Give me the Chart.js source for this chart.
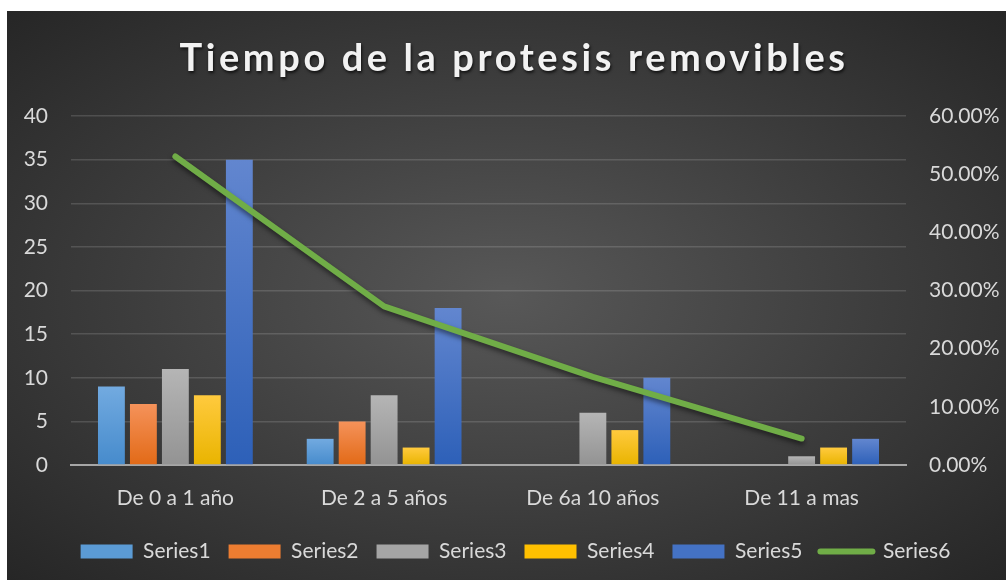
<!DOCTYPE html>
<html>
<head>
<meta charset="utf-8">
<script src="https://cdn.jsdelivr.net/npm/chart.js@4"></script>
<style>
  html, body { margin: 0; padding: 0; background: #fff; }
  #wrap {
    position: absolute; left: 7px; top: 11px; width: 999px; height: 569px;
    background: radial-gradient(ellipse at 50% 50%, #585858 0%, #3c3c3c 55%, #262626 100%);
  }
</style>
</head>
<body>
<div id="wrap"><canvas id="chart"></canvas></div>
<script>
const categories = ["De 0 a 1 año", "De 2 a 5 años", "De 6a 10 años", "De 11 a mas"];
const series1 = [9, 3, 0, 0];
const series2 = [7, 5, 0, 0];
const series3 = [11, 8, 6, 1];
const series4 = [8, 2, 4, 2];
const series5 = [35, 18, 10, 3];
const series6 = [0.5303, 0.2727, 0.1515, 0.0455];
const titleText = "Tiempo de la protesis removibles";

const textColor = "#d9d9d9";
const font = "Lato";

// vertical gradient per bar, light at top, darker at the base
function barFill(top, bottom) {
  return (c) => {
    const chart = c.chart;
    if (!chart.chartArea || c.type !== "data") return bottom;
    const y = chart.scales.y;
    const y0 = y.getPixelForValue(0);
    const y1 = y.getPixelForValue(c.raw);
    if (y0 - y1 < 1) return bottom;
    const g = chart.ctx.createLinearGradient(0, y1, 0, y0);
    g.addColorStop(0, top);
    g.addColorStop(1, bottom);
    return g;
  };
}

function bar(label, data, top, bottom, solid) {
  return {
    type: "bar",
    label,
    data,
    yAxisID: "y",
    order: 1,
    backgroundColor: barFill(top, bottom),
    legendColor: solid,
    barPercentage: 0.84,
    categoryPercentage: 0.766,
  };
}

const titlePlugin = {
  id: "titleDraw",
  afterDraw(chart) {
    const ctx = chart.ctx;
    ctx.save();
    ctx.font = "bold 38px " + font;
    ctx.letterSpacing = "3.6px";
    ctx.fillStyle = "#f2f2f2";
    ctx.textAlign = "center";
    ctx.textBaseline = "middle";
    ctx.shadowColor = "rgba(0,0,0,0.7)";
    ctx.shadowBlur = 3;
    ctx.shadowOffsetX = 1;
    ctx.shadowOffsetY = 2;
    ctx.fillText(titleText, 507, 48);
    ctx.restore();
  },
};

// legend sits a little right of centre in the original
const legendShift = {
  id: "legendShift",
  afterLayout(chart) {
    chart.legend.left += 9;
    chart.legend.right += 9;
  },
};

const lineShadow = {
  id: "lineShadow",
  beforeDatasetDraw(chart, args) {
    if (args.meta.type !== "line") return;
    const ctx = chart.ctx;
    ctx.save();
    ctx.shadowColor = "rgba(0,0,0,0.5)";
    ctx.shadowBlur = 5;
    ctx.shadowOffsetY = 3;
  },
  afterDatasetDraw(chart, args) {
    if (args.meta.type !== "line") return;
    chart.ctx.restore();
  },
};

const chart = new Chart(document.getElementById("chart"), {
  data: {
    labels: categories,
    datasets: [
      {
        type: "line",
        label: "Series6",
        data: series6,
        yAxisID: "y1",
        order: 0,
        borderColor: "#70ad47",
        borderWidth: 6,
        borderCapStyle: "round",
        borderJoinStyle: "round",
        pointRadius: 0,
        tension: 0,
      },
      bar("Series1", series1, "#72aae0", "#468bcc", "#5b9bd5"),
      bar("Series2", series2, "#f5925a", "#e26a17", "#ed7d31"),
      bar("Series3", series3, "#b5b5b5", "#939393", "#a5a5a5"),
      bar("Series4", series4, "#ffca3e", "#e9b400", "#ffc000"),
      bar("Series5", series5, "#6286cf", "#2d60b8", "#4472c4"),
    ],
  },
  options: {
    responsive: true,
    maintainAspectRatio: false,
    animation: false,
    layout: { padding: { top: 105, bottom: 8, left: 0, right: 0 } },
    plugins: {
      tooltip: { enabled: false },
      title: { display: false },
      legend: {
        position: "bottom",
        labels: {
          color: textColor,
          font: { family: font, size: 21 },
          usePointStyle: true,
          pointStyleWidth: 52,
          boxHeight: 14,
          padding: 18,
          generateLabels(chart) {
            const ds = chart.data.datasets;
            const bars = ds.filter((d) => d.type === "bar").map((d) => ({
              text: d.label,
              fillStyle: d.legendColor,
              strokeStyle: d.legendColor,
              lineWidth: 0,
              pointStyle: "rect",
              fontColor: textColor,
            }));
            const line = ds.find((d) => d.type === "line");
            bars.push({
              text: line.label,
              fillStyle: line.borderColor,
              strokeStyle: line.borderColor,
              lineWidth: 6,
              lineCap: "round",
              pointStyle: "line",
              fontColor: textColor,
            });
            return bars;
          },
        },
      },
    },
    scales: {
      x: {
        grid: { display: false, drawTicks: false },
        border: { color: "#a6a6a6", width: 2 },
        ticks: { color: textColor, font: { family: font, size: 21 }, padding: 21 },
        afterFit(s) { s.height = 58; },
      },
      y: {
        position: "left",
        min: 0,
        max: 40,
        ticks: { stepSize: 5, color: textColor, font: { family: font, size: 21 }, padding: 23 },
        grid: { color: "rgba(255,255,255,0.14)", lineWidth: 1.5, drawTicks: false },
        border: { display: false },
        afterFit(s) { s.width = 64; },
      },
      y1: {
        position: "right",
        min: 0,
        max: 0.6,
        ticks: {
          stepSize: 0.1,
          color: textColor,
          font: { family: font, size: 21 },
          padding: 23,
          callback: (v) => (v * 100).toFixed(2) + "%",
        },
        grid: { display: false, drawTicks: false },
        border: { display: false },
        afterFit(s) { s.width = 100; },
      },
    },
  },
  plugins: [titlePlugin, legendShift, lineShadow],
});
</script>
</body>
</html>
